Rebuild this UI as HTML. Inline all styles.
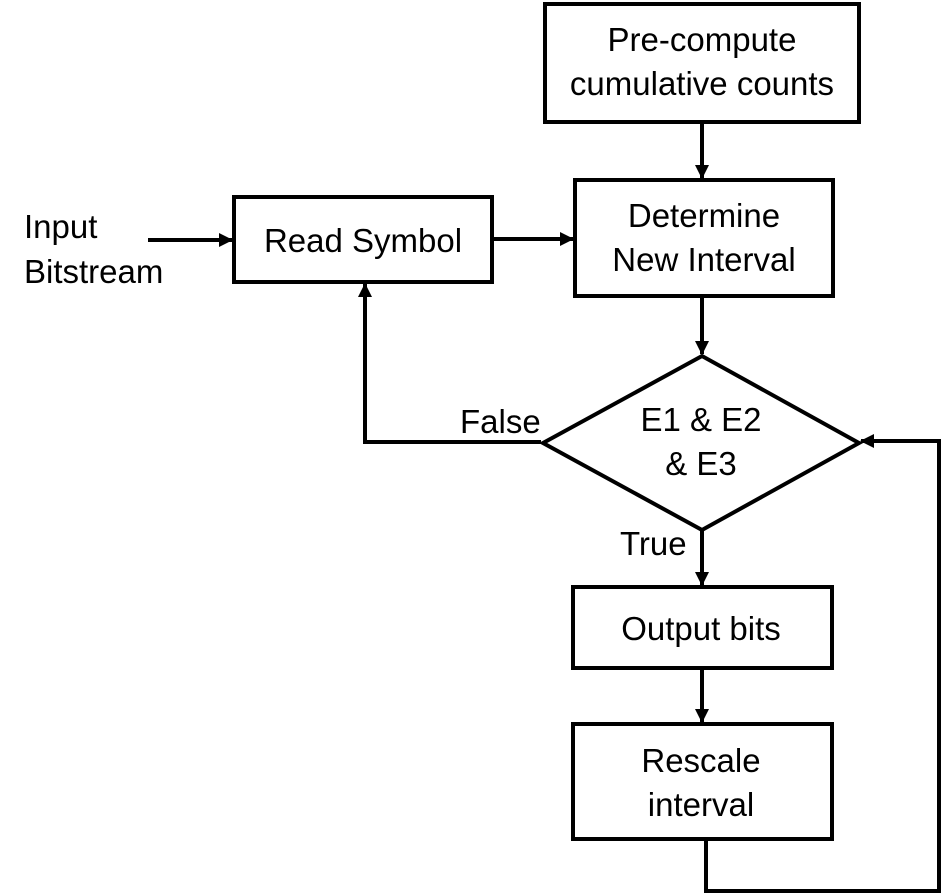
<!DOCTYPE html>
<html><head><style>
html,body{margin:0;padding:0;background:#fff;width:944px;height:896px;overflow:hidden}
svg text{font-family:"Liberation Sans",sans-serif;font-size:33px;fill:#000}
</style></head><body>
<svg width="944" height="896" viewBox="0 0 944 896" xmlns="http://www.w3.org/2000/svg">
<defs>
<marker id="b" markerWidth="14" markerHeight="14" refX="13" refY="7" orient="auto" markerUnits="userSpaceOnUse"><path d="M0,0 L14,7 L0,14 Z" fill="#000"/></marker></defs>
<g fill="none" stroke="#000" stroke-width="4">
<rect x="545" y="4" width="314" height="118"/>
<rect x="234" y="197" width="258" height="85"/>
<rect x="575" y="180" width="258" height="116"/>
<polygon points="543,443 702,356 859,443 702,530"/>
<rect x="573" y="587" width="259" height="81"/>
<rect x="573" y="724" width="259" height="115"/>
<path d="M702,122 V178" marker-end="url(#b)"/>
<path d="M148,240 V240 H232" marker-end="url(#b)"/>
<path d="M492,239 H573" marker-end="url(#b)"/>
<path d="M702,296 V354" marker-end="url(#b)"/>
<path d="M541,442 H365 V284" marker-end="url(#b)"/>
<path d="M702,530 V585" marker-end="url(#b)"/>
<path d="M702,668 V722" marker-end="url(#b)"/>
<path d="M706,839 V891 H939 V441 H861" marker-end="url(#b)"/>
</g>
<g text-anchor="middle">
<text x="702" y="51">Pre-compute</text>
<text x="702" y="95">cumulative counts</text>
<text x="363" y="252">Read Symbol</text>
<text x="704" y="227">Determine</text>
<text x="704" y="271">New Interval</text>
<text x="701" y="431">E1 &amp; E2</text>
<text x="701" y="475">&amp; E3</text>
<text x="701" y="640">Output bits</text>
<text x="701" y="772">Rescale</text>
<text x="701" y="816">interval</text>
</g>
<text x="24" y="238">Input</text>
<text x="24" y="283">Bitstream</text>
<text x="460" y="433">False</text>
<text x="620" y="555">True</text>
</svg>
</body></html>
